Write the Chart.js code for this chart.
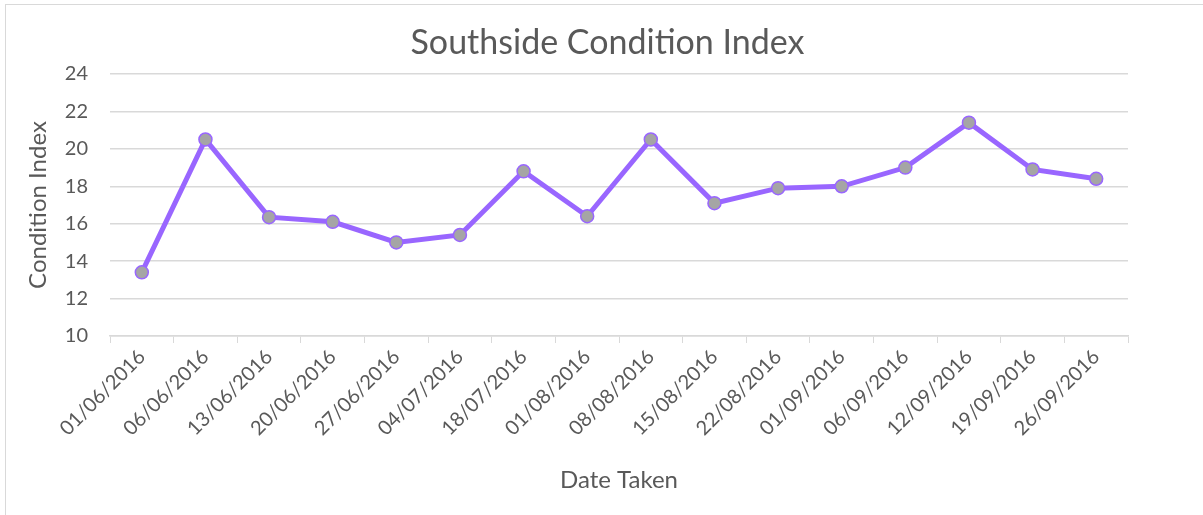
<!DOCTYPE html>
<html>
<head>
<meta charset="utf-8">
<title>Southside Condition Index</title>
<script src="https://cdn.jsdelivr.net/npm/chart.js@4/dist/chart.umd.min.js"></script>
<style>
  html, body { margin: 0; padding: 0; background: #fff; }
  #wrap { position: relative; width: 1203px; height: 515px; overflow: hidden; }
  #frame {
    position: absolute; left: 5px; top: 4px; width: 1210px; height: 530px;
    border-left: 1px solid #d9d9d9; border-top: 1px solid #d9d9d9;
  }
  canvas { position: absolute; left: 0; top: 0; }
</style>
</head>
<body>
<div id="wrap">
  <div id="frame"></div>
  <canvas id="conditionChart" width="1203" height="515"></canvas>
</div>
<script>
// survey dates and the condition index taken on each
const dates = [
  "01/06/2016", "06/06/2016", "13/06/2016", "20/06/2016", "27/06/2016",
  "04/07/2016", "18/07/2016", "01/08/2016", "08/08/2016", "15/08/2016",
  "22/08/2016", "01/09/2016", "06/09/2016", "12/09/2016", "19/09/2016",
  "26/09/2016"
];
const conditionIndex = [
  13.4, 20.5, 16.35, 16.1, 15.0,
  15.4, 18.8, 16.4, 20.5, 17.1,
  17.9, 18.0, 19.0, 21.4, 18.9,
  18.4
];
const yTicks = [10, 12, 14, 16, 18, 20, 22, 24];

const chartTitle = "Southside Condition Index";
const textColor = "#595959";
const gridColor = "#d9d9d9";
const fontFamily = "Lato, 'Open Sans', sans-serif";

// title centred on the whole frame rather than on the padded box
const frameTitle = {
  id: "frameTitle",
  afterDraw(chart) {
    const c = chart.ctx;
    c.save();
    c.fillStyle = textColor;
    c.font = "34px " + fontFamily;
    c.textAlign = "center";
    c.textBaseline = "middle";
    c.fillText(chartTitle, chart.width / 2 + 6, 43);
    c.restore();
  }
};

const ctx = document.getElementById("conditionChart").getContext("2d");

new Chart(ctx, {
  type: "line",
  data: {
    labels: dates,
    datasets: [{
      label: "Condition Index",
      data: conditionIndex,
      borderColor: "#9966ff",
      borderWidth: 5,
      pointBackgroundColor: "#a5a5a5",
      pointBorderColor: "#9966ff",
      pointBorderWidth: 1.5,
      pointRadius: 6.5,
      tension: 0
    }]
  },
  plugins: [frameTitle],
  options: {
    responsive: false,
    animation: false,
    layout: { padding: { top: 74, right: 75, bottom: 20, left: 24 } },
    plugins: {
      legend: { display: false },
      tooltip: { enabled: false },
      title: { display: false }
    },
    scales: {
      x: {
        type: "category",
        offset: true,
        // keep the plot bottom at a fixed height
        afterFit: axis => { axis.height = 159; },
        grid: {
          offset: true,
          drawOnChartArea: false,
          drawTicks: true,
          tickLength: 7,
          color: gridColor
        },
        border: { display: true, color: gridColor, width: 1.5 },
        ticks: {
          color: textColor,
          font: { family: fontFamily, size: 20 },
          minRotation: 45,
          maxRotation: 45,
          autoSkip: false,
          padding: 2
        },
        title: {
          display: true,
          text: "Date Taken",
          color: textColor,
          font: { family: fontFamily, size: 24 },
          padding: { top: 30, bottom: 0 }
        }
      },
      y: {
        min: yTicks[0],
        max: yTicks[yTicks.length - 1],
        afterBuildTicks: axis => { axis.ticks = yTicks.map(v => ({ value: v })); },
        afterFit: axis => { axis.width = 86; },
        grid: { color: gridColor, lineWidth: 1.5, drawTicks: false },
        border: { display: false },
        ticks: {
          color: textColor,
          font: { family: fontFamily, size: 20 },
          padding: 22
        },
        title: {
          display: true,
          text: "Condition Index",
          color: textColor,
          font: { family: fontFamily, size: 24 },
          padding: { top: 0, bottom: 8 }
        }
      }
    }
  }
});
</script>
</body>
</html>
